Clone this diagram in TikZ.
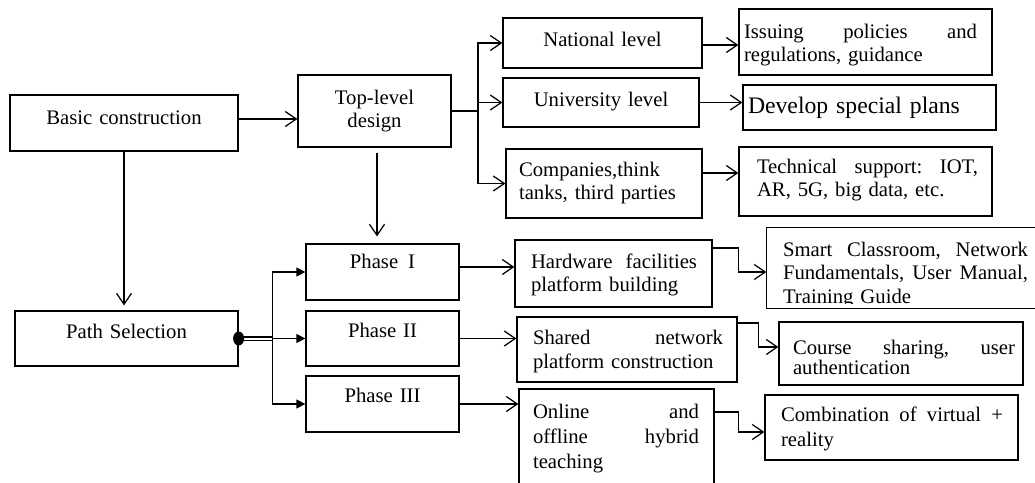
\documentclass[tikz,border=0pt]{standalone}
\usepackage{fontspec}
\setmainfont{Liberation Serif}
\usetikzlibrary{arrows.meta}
\newcommand{\jl}[2]{\makebox[#1pt]{#2}}
\tikzset{
  x=1pt, y=-1pt,
  lw/.style={line width=1.25pt},
  box/.style={draw, lw, inner sep=0pt, font=\fontsize{20.7}{23.5}\selectfont},
  tb/.style 2 args={text height=#1pt, text depth=#2pt},
  oarr/.style={lw, -{Straight Barb[length=11pt,width=15pt]}},
  farr/.style={lw, -{Triangle[length=9pt,width=9pt]}},
}
\begin{document}
\begin{tikzpicture}
\useasboundingbox (0,0) rectangle (1035,482);
\clip (0,0) rectangle (1035,482);

% left column
\node[box, minimum width=228pt, minimum height=56pt, text width=220pt, align=center, tb={21}{19}] (bc) at (124,123) {Basic construction};
\node[box, minimum width=223pt, minimum height=55pt, text width=215pt, align=center, tb={19.5}{20.5}] (ps) at (126.5,338.5) {Path Selection};

% top-level design
\node[box, minimum width=153pt, minimum height=72pt, text width=145pt, align=center, tb={13}{27}, font=\fontsize{20.7}{23}\selectfont] (tl) at (374.5,111) {Top-level\\design};

% levels
\node[box, minimum width=199pt, minimum height=50pt, text width=190pt, align=center, tb={23}{17}] (nat) at (602.5,43) {National level};
\node[box, minimum width=196pt, minimum height=49pt, text width=190pt, align=center, tb={23.5}{16.5}] (uni) at (601,102.5) {University level};
\node[box, minimum width=196pt, minimum height=69pt, text width=170pt, align=left, tb={12.5}{27.5}, font=\fontsize{20.7}{23}\selectfont] (comp) at (604,183.5) {Companies,think\\tanks, third parties};

% level results
\node[box, minimum width=253pt, minimum height=66pt, text width=243pt, align=left, tb={16}{24}, font=\fontsize{20.7}{23}\selectfont] (iss) at (865.5,42) {\jl{233}{Issuing\hfill policies\hfill and}\\regulations, guidance};
\node[box, minimum width=253pt, minimum height=45pt, text width=243pt, align=left, tb={25.5}{14.5}, font=\fontsize{23.7}{27}\selectfont] (dev) at (869.5,107.5) {Develop special plans};
\node[box, minimum width=253pt, minimum height=69pt, text width=217pt, align=left, tb={11.5}{28.5}, font=\fontsize{20.7}{23}\selectfont] (tech) at (865.5,181.5) {\jl{221}{Technical\hfill support:\hfill IOT,}\\AR, 5G, big data, etc.};

% phases
\node[box, minimum width=153pt, minimum height=56pt, text width=145pt, align=center, tb={16.5}{23.5}] (p1) at (382.5,272) {Phase\hspace{0.48em}I};
\node[box, minimum width=153pt, minimum height=55pt, text width=145pt, align=center, tb={18.5}{21.5}] (p2) at (382.5,338.5) {Phase II};
\node[box, minimum width=153pt, minimum height=56pt, text width=145pt, align=center, tb={18}{22}] (p3) at (382.5,404) {Phase III};

% phase contents
\node[box, minimum width=197pt, minimum height=67pt, text width=165pt, align=left, tb={14.5}{25.5}, font=\fontsize{20.7}{23}\selectfont] (hw) at (613.5,273.5) {\jl{166}{Hardware\hfill facilities}\\platform building};
\node[box, minimum width=220pt, minimum height=65pt, text width=188pt, align=left, tb={14.5}{25.5}, font=\fontsize{20.7}{24}\selectfont] (sh) at (627,349.5) {\jl{190}{Shared\hfill network}\\platform construction};
\node[box, minimum width=195pt, minimum height=96pt, text width=167pt, align=left, tb={1}{39}, font=\fontsize{20.7}{25}\selectfont] (on) at (616.5,437) {\jl{166}{Online\hfill and}\\\jl{166}{offline\hfill hybrid}\\teaching};

% phase results
\begin{scope}
\clip (760,220) rectangle (1040,303);
\node[box, draw=none, minimum width=277pt, minimum height=80pt, text width=245pt, align=left, tb={8}{32}, font=\fontsize{20.7}{23.5}\selectfont] (sm) at (905.5,268) {\jl{245}{Smart\hfill Classroom,\hfill Network}\\\jl{245}{Fundamentals,\hfill User\hfill Manual,}\\Training Guide};
\end{scope}
\draw[lw] (sm.north west) rectangle (sm.south east);
\node[box, minimum width=244pt, minimum height=63pt, text width=216pt, align=left, tb={20.5}{19.5}, font=\fontsize{20.7}{20}\selectfont] (co) at (901,353.5) {\jl{222}{Course\hfill sharing,\hfill user}\\authentication};
\node[box, minimum width=253pt, minimum height=65pt, text width=221pt, align=left, tb={13.5}{26.5}, font=\fontsize{20.7}{25}\selectfont] (cb) at (891.5,427.5) {\jl{222}{Combination\hfill of\hfill virtual\hfill +}\\reality};

% connectors
\draw[oarr] ([yshift=4pt]bc.east) -- ([yshift=4pt]bc.east -| tl.west);
\draw[oarr, shorten >=5pt] (bc.south) -- (bc.south |- ps.north);

\coordinate (j1) at (478,111);
\draw[lw] (tl.east) -- (j1);
\draw[oarr] (j1) |- (nat.west);
\draw[oarr] (j1) |- (uni.west);
\draw[oarr] (j1) |- (comp.west);

\draw[oarr, shorten <=5pt, shorten >=7pt] ([xshift=2.5pt]tl.south) -- ([xshift=2.5pt]tl.south |- p1.north);

\draw[oarr] ([yshift=-2pt]nat.east) -- ([yshift=-2pt]nat.east -| iss.west);
\draw[oarr] (uni.east) -- (uni.east -| dev.west);
\draw[oarr] ([yshift=10.5pt]comp.east) -- ([yshift=10.5pt]comp.east -| tech.west);

\coordinate (j2) at ([xshift=34pt]ps.east);
\draw[line width=1.2pt, double distance=2pt] (ps.east) -- (j2);
\fill (ps.east) ellipse [x radius=5.5pt, y radius=7pt];
\draw[farr] (j2) |- (p1.west);
\draw[farr] (j2) |- (p2.west);
\draw[farr] (j2) |- (p3.west);

\draw[oarr] ([yshift=5pt]p1.east) -- ([yshift=5pt]p1.east -| hw.west);
\draw[oarr] (p2.east) -- (p2.east -| sh.west);
\draw[oarr] (p3.east) -- (p3.east -| on.west);

\draw[oarr] ([yshift=25.5pt]hw.east) -- ++(26,0) |- ([yshift=-4pt]sm.west);
\draw[oarr] ([yshift=26.5pt]sh.east) -- ++(21,0) |- ([yshift=6.5pt]co.west);
\draw[oarr] ([yshift=25pt]on.east) -- ++(24,0) |- ([yshift=-4.5pt]cb.west);
\end{tikzpicture}
\end{document}
